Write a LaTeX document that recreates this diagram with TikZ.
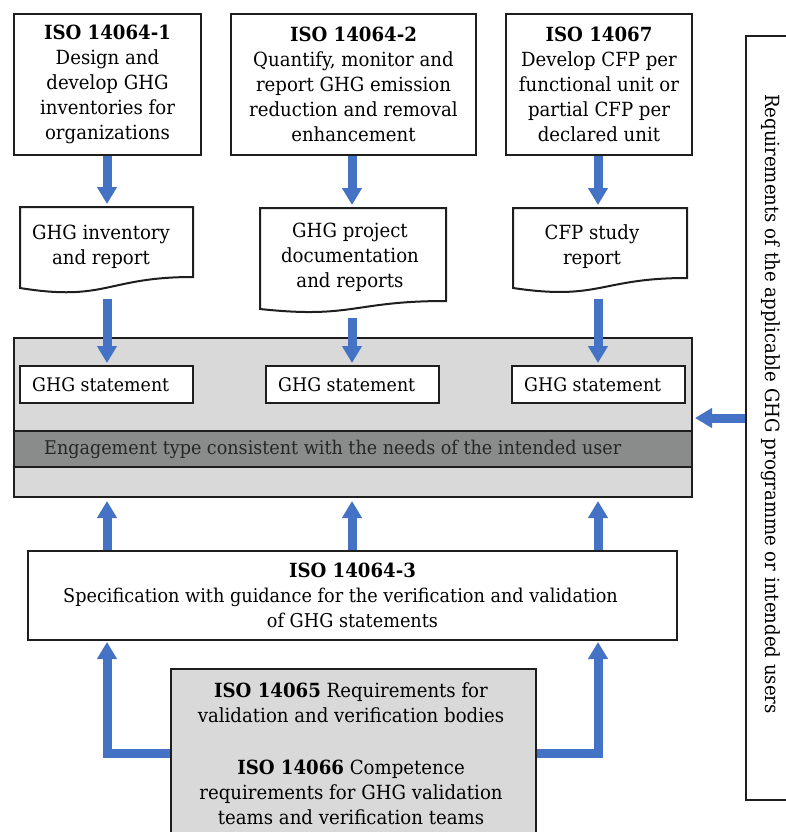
\documentclass[tikz,border=0pt]{standalone}
\usepackage{fontspec}
\setmainfont{DejaVu Serif}[FakeStretch=0.93]
\usetikzlibrary{arrows.meta}
\definecolor{arrowblue}{HTML}{4472C4}
\definecolor{panelgray}{HTML}{D9D9D9}
\definecolor{bandgray}{HTML}{8A8C8C}
\definecolor{edgecol}{HTML}{1E1E1E}
\begin{document}
\begin{tikzpicture}[x=1pt,y=-1pt,
  box/.style={draw=edgecol, line width=2pt, fill=white, inner sep=0pt},
  txt/.style={font=\fontsize{19.5}{25}\selectfont, align=center, inner sep=0pt},
  stxt/.style={font=\fontsize{18.7}{25}\selectfont, inner sep=0pt, anchor=west},
  docshape/.style={draw=edgecol, line width=2pt, fill=white},
  bluearrow/.style={draw=arrowblue, line width=9pt, line join=miter,
    -{Triangle[width=19pt,length=17pt]}}
]
\useasboundingbox (0,0) rectangle (786,832);

% column coordinates
\coordinate (c1) at (107,0);
\coordinate (c2) at (352,0);
\coordinate (c3) at (598,0);

% top boxes
\node[box, txt, minimum width=187pt, minimum height=141pt] (iso1) at (107.5,84.5)
  {\textbf{ISO 14064-1}\\Design and\\develop GHG\\inventories for\\organizations};
\node[box, txt, minimum width=245pt, minimum height=141pt] (iso2) at (353.5,84.5)
  {\textbf{ISO 14064-2}\\Quantify, monitor and\\report GHG emission\\reduction and removal\\enhancement};
\node[box, txt, minimum width=186pt, minimum height=141pt] (iso3top) at (599,84.5)
  {\textbf{ISO 14067}\\Develop CFP per\\functional unit or\\partial CFP per\\declared unit};

% document shapes
\draw[docshape] (20,207) -- (193,207) -- (193,277)
  .. controls (106.5,277) and (106.5,302) .. (20,288) -- cycle;
\draw[docshape] (260,208) -- (446,208) -- (446,301)
  .. controls (353,301) and (353,319) .. (260,309) -- cycle;
\draw[docshape] (513,208) -- (687,208) -- (687,278)
  .. controls (600,278) and (600,301) .. (513,288) -- cycle;
\coordinate (d1top) at (107,207);
\coordinate (d2top) at (352,208);
\coordinate (d3top) at (598,208);
\coordinate (d1bot) at (107,299);
\coordinate (d2bot) at (352,318);
\coordinate (d3bot) at (598,299);
\node[txt] (doc1) at (101,246.5) {GHG inventory\\and report};
\node[txt] (doc2) at (350,257) {GHG project\\documentation\\and reports};
\node[txt] (doc3) at (592,246.5) {CFP study\\report};

% arrows top -> docs
\draw[bluearrow, shorten >=3pt] (iso1.south -| c1) -- (d1top);
\draw[bluearrow, shorten >=3pt] (iso2.south -| c2) -- (d2top);
\draw[bluearrow, shorten >=3pt] (iso3top.south -| c3) -- (d3top);

% panel
\node[draw=edgecol, line width=2pt, fill=panelgray, minimum width=678pt, minimum height=159pt, inner sep=0pt] (panel) at (353,417.5) {};
\node[draw=edgecol, line width=2pt, fill=bandgray, minimum width=678pt, minimum height=36pt, inner sep=0pt] (band) at (353,449) {};
\node[stxt, font=\fontsize{18.9}{25}\selectfont, text=black!85] (engage) at (44,449) {Engagement type consistent with the needs of the intended user};

\node[box, minimum width=173pt, minimum height=37pt] (st1) at (106.5,384.5) {};
\node[box, minimum width=173pt, minimum height=37pt] (st2) at (352.5,384.5) {};
\node[box, minimum width=173pt, minimum height=37pt] (st3) at (598.5,384.5) {};
\node[stxt] (st1t) at ([xshift=13pt]st1.west) {GHG statement};
\node[stxt] (st2t) at ([xshift=13pt]st2.west) {GHG statement};
\node[stxt] (st3t) at ([xshift=13pt]st3.west) {GHG statement};

% arrows docs -> statements
\draw[bluearrow, shorten >=2pt] (d1bot) -- (st1.north -| c1);
\draw[bluearrow, shorten >=2pt] (d2bot) -- (st2.north -| c2);
\draw[bluearrow, shorten >=2pt] (d3bot) -- (st3.north -| c3);

% right box
\node[box, minimum width=54pt, minimum height=764pt] (rbox) at (773,418) {};
\node[txt, rotate=-90] (rtext) at (771,404) {Requirements of the applicable GHG programme or intended users};
\coordinate (rrow) at (0,418);
\draw[bluearrow, shorten >=2pt] (rbox.west |- rrow) -- (panel.east |- rrow);

% ISO 14064-3
\node[box, txt, minimum width=649pt, minimum height=89pt] (iso643) at (352.5,595.5)
  {\textbf{ISO 14064-3}\\{\fontsize{19}{25}\selectfont Specification with guidance for the verification and validation\rule{24pt}{0pt}}\\{\fontsize{19}{25}\selectfont of GHG statements}};
\draw[bluearrow, shorten >=3pt] (iso643.north -| c1) -- (panel.south -| c1);
\draw[bluearrow, shorten >=3pt] (iso643.north -| c2) -- (panel.south -| c2);
\draw[bluearrow, shorten >=3pt] (iso643.north -| c3) -- (panel.south -| c3);

% bottom box and L arrows
\coordinate (lrow) at (0,753);
\node[draw=edgecol, line width=2pt, fill=panelgray, minimum width=365pt, minimum height=180pt, inner sep=0pt] (bot) at (353.5,759) {};
\draw[bluearrow, shorten >=1pt] (bot.west |- lrow) -| (iso643.south -| c1);
\draw[bluearrow, shorten >=1pt] (bot.east |- lrow) -| (iso643.south -| c3);
\node[txt] (bottext) at (351,753.5)
  {\textbf{ISO 14065} Requirements for\\validation and verification bodies\\[27pt]\textbf{ISO 14066} Competence\\requirements for GHG validation\\teams and verification teams};
\end{tikzpicture}
\end{document}
